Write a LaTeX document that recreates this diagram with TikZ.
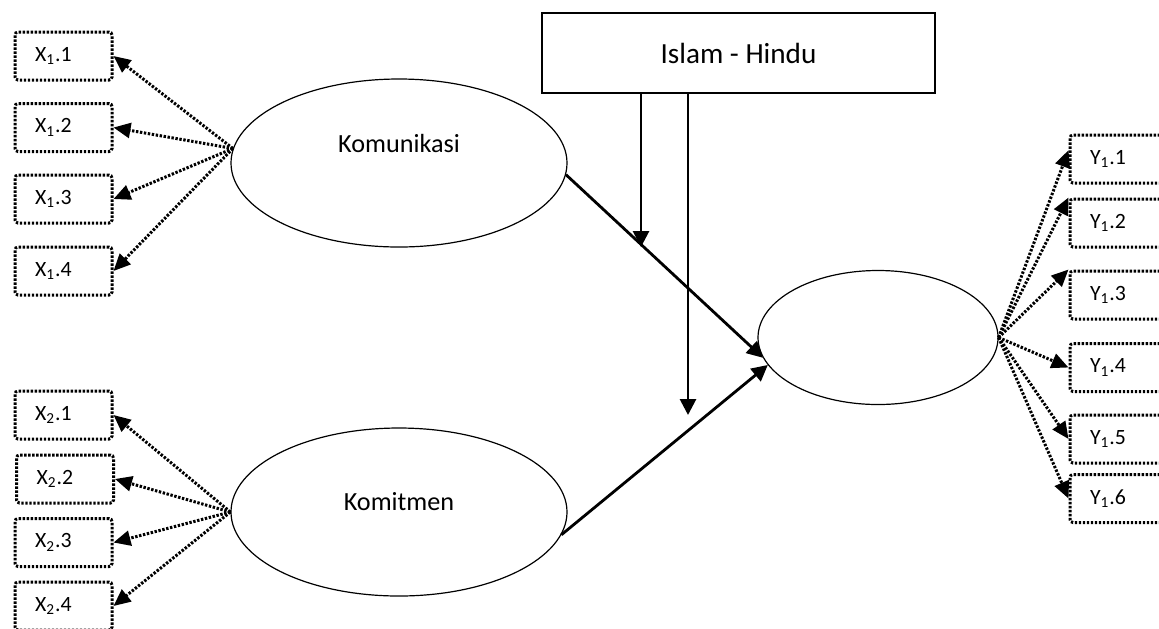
\documentclass[tikz,border=0pt]{standalone}
\usepackage{fontspec}
\setmainfont{Carlito}
\usetikzlibrary{shapes.geometric,arrows.meta,positioning}

\begin{document}
\begin{tikzpicture}[
    x=0.5pt, y=-0.5pt,
    latent/.style={ellipse, draw, line width=0.6pt, minimum width=168pt, minimum height=84pt, inner sep=0pt},
    ltext/.style={font=\fontsize{13.1}{15}\selectfont},
    modbox/.style={rectangle, draw, line width=1.3pt, minimum width=196.5pt, minimum height=40pt, font=\fontsize{14.6}{17}\selectfont},
    indicator/.style={rectangle, draw, rounded corners=1.5pt, line width=1.5pt, dash pattern=on 1.2pt off 0.8pt, minimum height=24pt, text width=28.5pt, inner xsep=10pt, inner ysep=0pt, align=left, font=\fontsize{10.9}{12}\selectfont},
    arrow/.style={-{Triangle[length=8pt,width=8pt]}, line width=1.4pt},
    loading/.style={-{Triangle[length=8.5pt,width=7.5pt]}, line width=1.5pt, dash pattern=on 1.2pt off 0.8pt}
]
\useasboundingbox (0,0) rectangle (1159,628);

% Latent variables
\node[latent] (kom) at (399,163) {};
\node[ltext] (komtxt) at ([yshift=10pt]kom.center) {Komunikasi};
\node[latent] (kmt) at (399,512) {};
\node[ltext] (kmttxt) at ([yshift=5pt]kmt.center) {Komitmen};
\node[latent, minimum width=120pt, minimum height=67pt] (yel) at (878,337.5) {};

% Moderator
\node[modbox] (mod) at (738.5,53) {Islam - Hindu};

% Indicators
\node[indicator] (x11) at (63.5,56) {X\textsubscript{1}.1};
\node[indicator] (x12) at (63.5,127.5) {X\textsubscript{1}.2};
\node[indicator] (x13) at (63.5,199) {X\textsubscript{1}.3};
\node[indicator] (x14) at (63.5,271) {X\textsubscript{1}.4};
\node[indicator] (x21) at (63.5,415) {X\textsubscript{2}.1};
\node[indicator] (x22) at (65,479) {X\textsubscript{2}.2};
\node[indicator] (x23) at (63.5,542.5) {X\textsubscript{2}.3};
\node[indicator] (x24) at (63.5,606) {X\textsubscript{2}.4};
\node[indicator] (y11) at (1118.5,159) {Y\textsubscript{1}.1};
\node[indicator] (y12) at (1118.5,223) {Y\textsubscript{1}.2};
\node[indicator] (y13) at (1118.5,295) {Y\textsubscript{1}.3};
\node[indicator] (y14) at (1118.5,367.5) {Y\textsubscript{1}.4};
\node[indicator] (y15) at (1118.5,439) {Y\textsubscript{1}.5};
\node[indicator] (y16) at (1118.5,498.5) {Y\textsubscript{1}.6};

% Loadings
\draw[loading] (kom.175) -- (x11.east);
\draw[loading] (kom.175) -- (x12.east);
\draw[loading] (kom.175) -- (x13.east);
\draw[loading] (kom.175) -- (x14.east);
\draw[loading] (kmt.west) -- (x21.east);
\draw[loading] (kmt.west) -- (x22.east);
\draw[loading] (kmt.west) -- (x23.east);
\draw[loading] (kmt.west) -- (x24.east);
\draw[loading] (yel.east) -- (y11.170);
\draw[loading] (yel.east) -- (y12.north west);
\draw[loading] (yel.east) -- (y13.north west);
\draw[loading] (yel.east) -- (y14.west);
\draw[loading] (yel.east) -- (y15.west);
\draw[loading] (yel.east) -- (y16.west);

% Paths
\draw[arrow] (kom.-4) -- (yel.190);
\draw[arrow] (kmt.-8) -- (yel.194);

% Moderation
\coordinate (m1) at (641,247);
\coordinate (m2) at (688,415);
\draw[arrow] (mod.south -| m1) -- (m1);
\draw[arrow] (mod.south -| m2) -- (m2);

\end{tikzpicture}
\end{document}
